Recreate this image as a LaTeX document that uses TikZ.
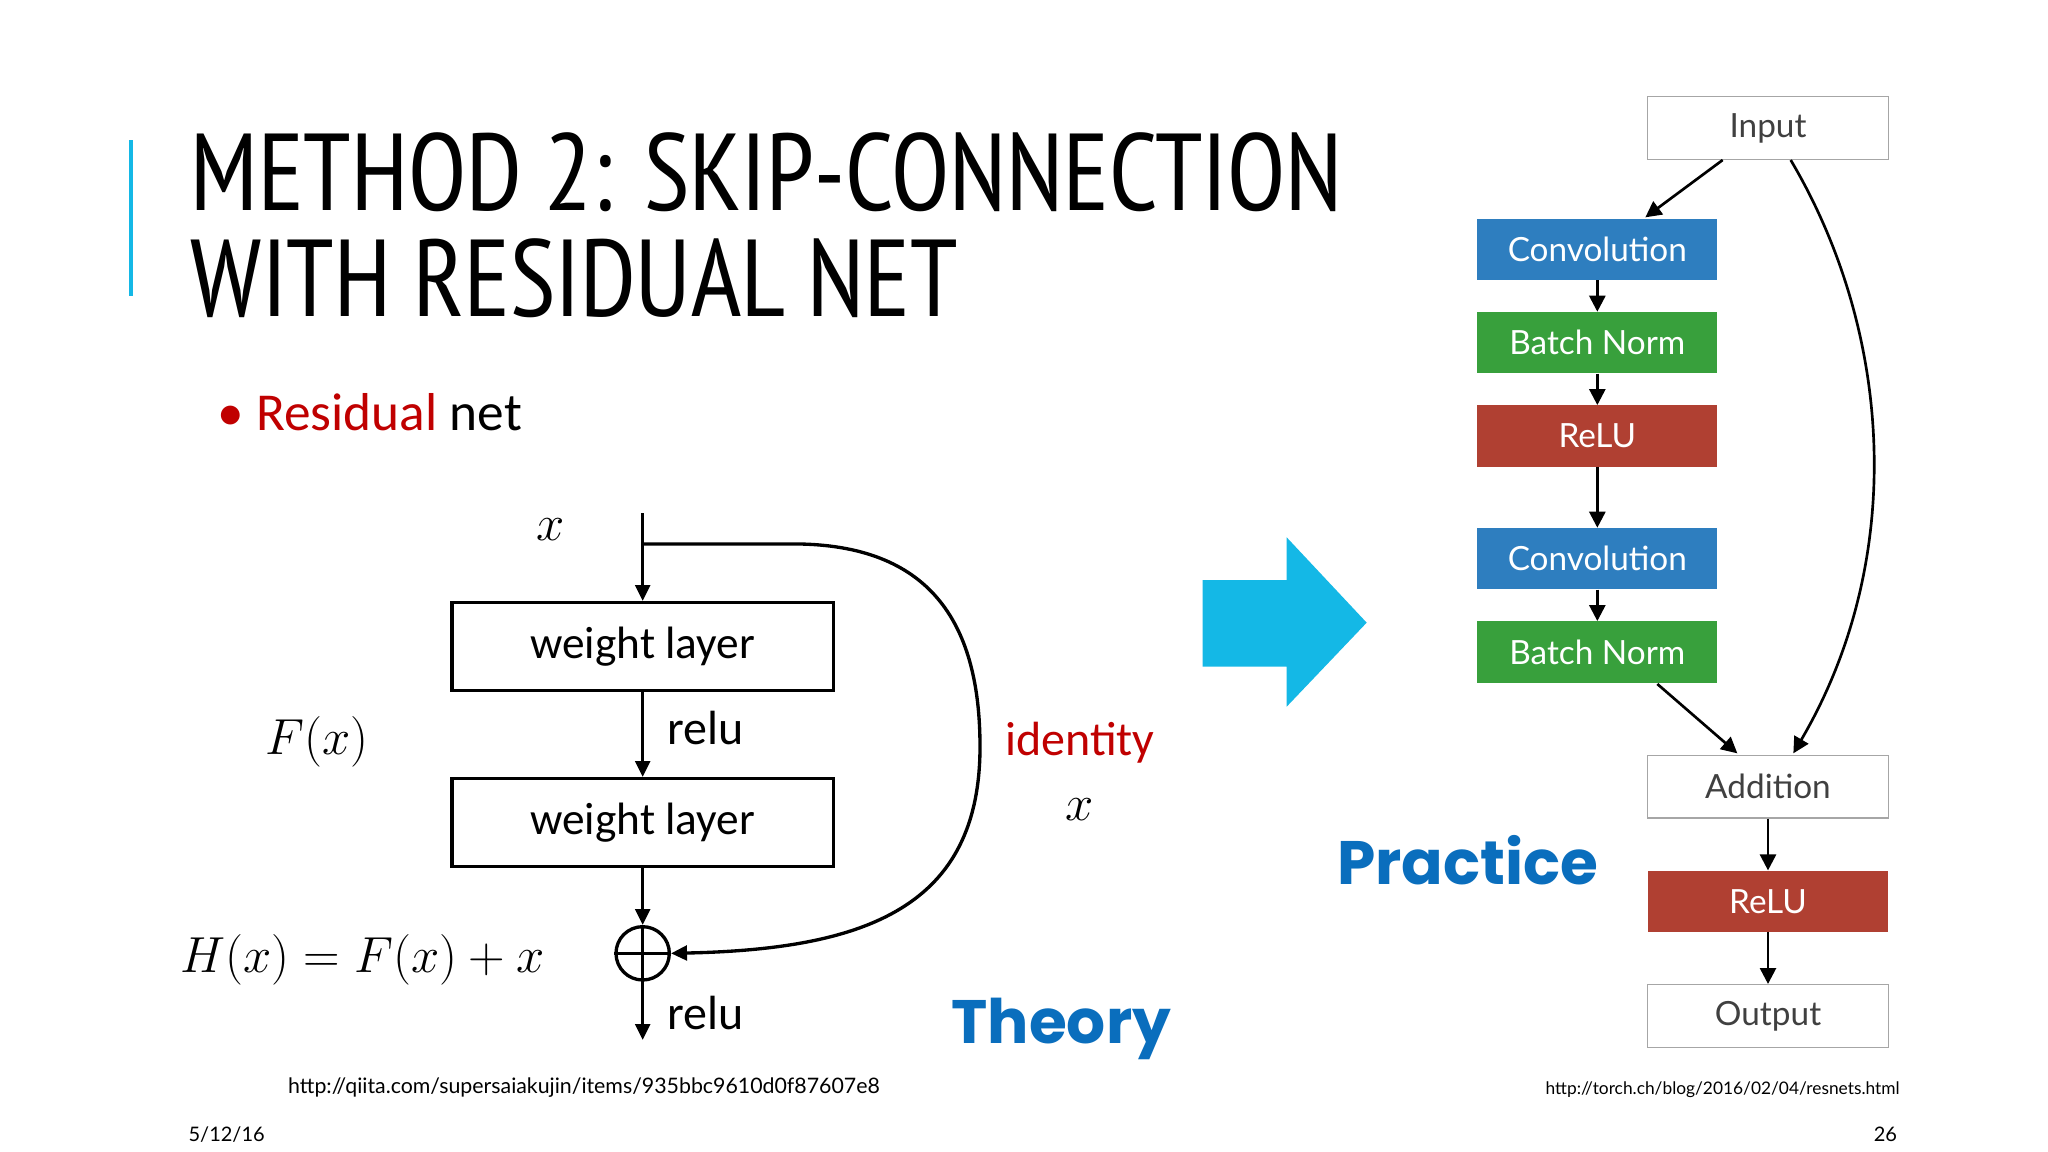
\RequirePackage{fix-cm}
\documentclass[tikz,border=0pt]{standalone}
\usepackage{fontspec}
\setmainfont{Carlito}
\newfontfamily\titlef{PT Sans Narrow}
\newfontfamily\latof{Lato}
\newfontfamily\popf{Poppins}
\usetikzlibrary{arrows.meta}
\definecolor{cyanb}{HTML}{14B8E6}
\definecolor{redt}{HTML}{C00000}
\definecolor{bluet}{HTML}{0A6EBD}
\definecolor{convb}{HTML}{2E7EBF}
\definecolor{bnb}{HTML}{38A03C}
\definecolor{relub}{HTML}{B04032}
\begin{document}
\begin{tikzpicture}[x=1pt,y=-1pt,
  wl/.style={draw,line width=2.5pt,minimum width=286pt,minimum height=66pt,font=\fontsize{34}{40}\selectfont},
  rb/.style={minimum width=180pt,minimum height=46pt,font=\latof\fontsize{25}{30}\selectfont,text=white},
  wb/.style={draw=gray!70,line width=1pt,fill=white,minimum width=181pt,minimum height=47pt,font=\latof\fontsize{25}{30}\selectfont,text=black!75},
  ar/.style={-{Triangle[length=12pt,width=11pt]},line width=2.5pt},
  ar2/.style={-{Triangle[length=12pt,width=12pt]},line width=2pt},
  mth/.style={font=\fontsize{38}{44}\selectfont}]
\useasboundingbox (0,0) rectangle (1536,864);
\fill[white] (0,0) rectangle (1536,864);
% title
\fill[cyanb] (97,105) rectangle (100,222);
\node[anchor=base west,inner sep=0,xscale=0.97,font=\titlef\fontsize{82}{90}\selectfont] (t1) at (143,158) {METHOD 2: SKIP-CONNECTION};
\node[anchor=base west,inner sep=0,xscale=0.97,font=\titlef\fontsize{82}{90}\selectfont] (t2) at (143,237) {WITH RESIDUAL NET};
\node[anchor=base west,inner sep=0,font=\fontsize{40}{46}\selectfont] (bul) at (163,323) {\textcolor{redt}{\textbullet\ Residual} net};
% theory diagram
\node[wl] (w1) at (482,485) {weight layer};
\node[wl] (w2) at (482,617) {weight layer};
\node[circle,draw,line width=2.5pt,minimum size=40pt,inner sep=0] (plus) at (482,715) {};
\draw[line width=2.5pt] (plus.north)--(plus.south) (plus.west)--(plus.east);
\coordinate (top) at (482,385);
\coordinate (sk) at (482,408);
\coordinate (bot) at (482,780);
\draw[ar] (top) -- (w1.north);
\draw[ar] (w1.south) -- (w2.north);
\draw[ar] (w2.south) -- (plus.north);
\draw[ar] (plus.south) -- (bot);
\draw[ar] (sk) -- (600,408) .. controls (700,410) and (735,470) .. (735,560) .. controls (735,680) and (650,712) .. (plus.east);
\node[mth] (xl) at (413,397) {$x$};
\node[anchor=west,font=\fontsize{36}{42}\selectfont] (r1) at (497,546) {relu};
\node[anchor=west,font=\fontsize{36}{42}\selectfont] (r2) at (497,760) {relu};
\node[mth] (fx) at (238,556) {$F(x)$};
\node[mth] (hx) at (272,720) {$H(x)=F(x)+x$};
\node[text=redt,font=\fontsize{36}{42}\selectfont] (id) at (810,557) {identity};
\node[mth] (ix) at (810,607) {$x$};
\node[text=bluet,font=\popf\bfseries\fontsize{46}{52}\selectfont] (th) at (796,772) {Theory};
% big arrow
\fill[cyanb] (902,435) -- (965,435) -- (965,403) -- (1025,467) -- (965,530) -- (965,500) -- (902,500) -- cycle;
\node[text=bluet,font=\popf\bfseries\fontsize{46}{52}\selectfont] (pr) at (1101,645) {Practice};
% practice diagram
\node[wb] (in) at (1326,96) {Input};
\node[rb,fill=convb] (c1) at (1198,187) {Convolution};
\node[rb,fill=bnb] (b1) at (1198,257) {Batch Norm};
\node[rb,fill=relub] (re1) at (1198,327) {ReLU};
\node[rb,fill=convb] (c2) at (1198,419) {Convolution};
\node[rb,fill=bnb] (b2) at (1198,489) {Batch Norm};
\node[wb] (ad) at (1326,590) {Addition};
\node[rb,fill=relub] (re2) at (1326,676) {ReLU};
\node[wb] (out) at (1326,762) {Output};
\draw[ar2] (1292,120) -- (1234,163);
\draw[ar2] (c1) -- (b1);
\draw[ar2] (b1) -- (re1);
\draw[ar2] (re1) -- (c2);
\draw[ar2] (c2) -- (b2);
\draw[ar2] (1243,513) -- (1303,565);
\draw[ar2] (1343,120) .. controls (1420,250) and (1430,420) .. (1345,565);
\draw[ar2] (ad) -- (re2);
\draw[ar2] (re2) -- (out);
% footer
\node[font=\latof\fontsize{16}{20}\selectfont] (u1) at (438,816) {http://qiita.com/supersaiakujin/items/935bbc9610d0f87607e8};
\node[font=\latof\fontsize{13}{16}\selectfont] (u2) at (1292,817) {http://torch.ch/blog/2016/02/04/resnets.html};
\node[font=\latof\fontsize{15}{18}\selectfont] (d) at (170,851) {5/12/16};
\node[font=\latof\fontsize{15}{18}\selectfont] (pg) at (1414,851) {26};
\end{tikzpicture}
\end{document}
